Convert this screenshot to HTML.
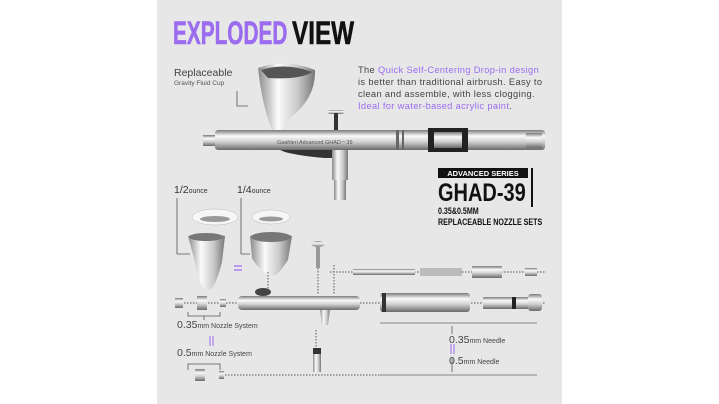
<!DOCTYPE html>
<html><head><meta charset="utf-8"><style>
html,body{margin:0;padding:0;background:#fff;width:719px;height:404px;overflow:hidden}
svg{display:block;font-family:"Liberation Sans",sans-serif}
</style></head><body>
<svg width="719" height="404" viewBox="0 0 719 404">
<defs>
<linearGradient id="m" x1="0" y1="0" x2="0" y2="1">
<stop offset="0" stop-color="#7a7a7a"/><stop offset=".3" stop-color="#fafafa"/><stop offset=".6" stop-color="#cfcfcf"/><stop offset="1" stop-color="#6a6a6a"/></linearGradient>
<linearGradient id="mh" x1="0" y1="0" x2="1" y2="0">
<stop offset="0" stop-color="#8a8a8a"/><stop offset=".35" stop-color="#fbfbfb"/><stop offset=".7" stop-color="#c8c8c8"/><stop offset="1" stop-color="#777"/></linearGradient>
</defs>
<rect x="157" y="0" width="405" height="404" fill="#e7e7e7"/>
<!-- title -->
<text x="173" y="44" font-size="32" font-weight="bold" fill="#9b6cf0" stroke="#9b6cf0" stroke-width=".6" transform="translate(173 0) scale(0.65 1) translate(-173 0)">EXPLODED</text>
<text x="292" y="44" font-size="32" font-weight="bold" fill="#111" stroke="#111" stroke-width=".6" transform="translate(292 0) scale(0.76 1) translate(-292 0)">VIEW</text>
<!-- cup label -->
<text x="174" y="76" font-size="10.5" fill="#444">Replaceable</text>
<text x="174" y="85" font-size="6.5" fill="#555">Gravity Fluid Cup</text>
<path d="M237 91 V106 H248" stroke="#555" fill="none" stroke-width="0.8"/>
<!-- description -->
<g font-size="9.3" fill="#444" letter-spacing=".35">
<text x="358" y="73">The <tspan fill="#9b6cf0">Quick Self-Centering Drop-in design</tspan></text>
<text x="358" y="85">is better than traditional airbrush. Easy to</text>
<text x="358" y="97">clean and assemble, with less clogging.</text>
<text x="358" y="109"><tspan fill="#9b6cf0">Ideal for water-based acrylic paint</tspan>.</text>
</g>
<!-- airbrush -->
<path d="M258 68 Q286 58 315 70 Q316 98 290 118 L282 130 L272 130 Q262 105 258 68Z" fill="url(#mh)"/>
<path d="M261 70 Q286 62 312 72 Q300 80 268 78Z" fill="#555"/>
<rect x="328" y="110" width="16" height="4" rx="2" fill="url(#m)"/><rect x="334" y="113" width="4" height="18" fill="#333"/>
<rect x="203" y="135" width="14" height="11" fill="url(#m)"/>
<rect x="215" y="130" width="330" height="20" rx="3" fill="url(#m)"/>
<rect x="396" y="130" width="3" height="20" fill="#666"/><rect x="402" y="130" width="2" height="20" fill="#666"/>
<rect x="428" y="128" width="40" height="24" fill="#222"/><rect x="434" y="132" width="28" height="16" fill="url(#m)"/>
<rect x="526" y="133" width="16" height="15" fill="url(#m)"/>
<text x="277" y="144" font-size="5.5" fill="#555">Gaahleri  Advanced  GHAD－39</text>
<path d="M280 150 L345 150 L345 158 L325 158 Q300 156 285 152Z" fill="#333"/>
<rect x="332" y="150" width="16" height="30" fill="url(#mh)"/>
<rect x="334" y="180" width="12" height="20" fill="url(#mh)"/>
<!-- GHAD block -->
<rect x="438" y="168" width="90" height="10" fill="#111"/>
<text x="483" y="176" font-size="7.5" fill="#fff" text-anchor="middle" font-weight="bold">ADVANCED SERIES</text>
<text x="438" y="201" font-size="25" font-weight="bold" fill="#111" transform="translate(438 0) scale(0.8 1) translate(-438 0)">GHAD-39</text>
<rect x="531" y="168" width="2" height="39" fill="#111"/>
<text x="438" y="214" font-size="9.5" fill="#111" font-weight="bold" transform="translate(438 0) scale(0.75 1) translate(-438 0)">0.35&amp;0.5MM</text>
<text x="438" y="225" font-size="9.5" fill="#111" font-weight="bold" transform="translate(438 0) scale(0.75 1) translate(-438 0)">REPLACEABLE NOZZLE SETS</text>
<!-- cups -->
<text x="174" y="193" font-size="10.5" fill="#333">1/2<tspan font-size="7">ounce</tspan></text>
<text x="237" y="193" font-size="10.5" fill="#333">1/4<tspan font-size="7">ounce</tspan></text>
<path d="M177 198 V254 H190 M241 198 V254 H250" stroke="#555" fill="none" stroke-width="0.8"/>
<ellipse cx="215" cy="217" rx="23" ry="8" fill="#f6f6f6" stroke="#bbb" stroke-width=".5"/>
<ellipse cx="215" cy="219" rx="15" ry="3" fill="#999"/>
<ellipse cx="271" cy="217" rx="19" ry="7" fill="#f6f6f6" stroke="#bbb" stroke-width=".5"/>
<ellipse cx="271" cy="219" rx="12" ry="2.5" fill="#999"/>
<path d="M188 236 Q206 230 225 236 L222 262 Q215 290 208 290 Q200 290 195 262Z" fill="url(#mh)"/>
<ellipse cx="206" cy="237" rx="17" ry="4" fill="#777"/>
<path d="M250 236 Q271 230 292 236 L288 260 Q278 275 275 275 L268 275 Q255 265 252 258Z" fill="url(#mh)"/>
<ellipse cx="271" cy="237" rx="20" ry="5" fill="#777"/>
<path d="M234 266 H242 M234 270 H242" stroke="#9b6cf0" stroke-width="1.2"/>
<!-- connectors -->
<g stroke="#555" stroke-dasharray="1.5 1.5" stroke-width="1" fill="none">
<path d="M330 272 H545"/><path d="M318 250 V295 M334 265 V295"/><path d="M268 272 V290"/>
<path d="M175 303 H240 M360 303 H545"/><path d="M222 375 H380"/><path d="M316 330 V350"/>
</g>
<ellipse cx="318" cy="244" rx="7" ry="3" fill="url(#m)"/><rect x="316" y="246" width="4" height="22" fill="#999"/>
<rect x="353" y="269" width="62" height="6" fill="url(#m)"/>
<rect x="420" y="268" width="42" height="8" fill="#bbb"/>
<rect x="472" y="266" width="30" height="12" fill="url(#m)"/>
<rect x="525" y="268" width="12" height="8" fill="url(#m)"/>
<!-- parts row 2 -->
<rect x="175" y="298" width="8" height="10" fill="url(#m)"/><rect x="197" y="296" width="10" height="14" fill="url(#m)"/><rect x="220" y="299" width="6" height="8" fill="url(#m)"/>
<rect x="238" y="296" width="122" height="14" rx="4" fill="url(#m)"/>
<ellipse cx="263" cy="292" rx="8" ry="4" fill="#444"/>
<path d="M320 310 L330 310 L328 325 L322 325Z" fill="url(#mh)"/>
<rect x="380" y="293" width="90" height="19" rx="3" fill="url(#m)"/>
<rect x="382" y="293" width="4" height="19" fill="#333"/>
<rect x="483" y="297" width="45" height="12" fill="url(#m)"/><rect x="512" y="297" width="4" height="12" fill="#222"/>
<rect x="528" y="294" width="14" height="17" rx="3" fill="url(#m)"/>
<rect x="313" y="348" width="8" height="6" fill="#333"/><rect x="313" y="354" width="8" height="18" fill="url(#mh)"/>
<!-- labels bottom -->
<path d="M188 312 V316 H220 V312 M204 316 V320" stroke="#555" fill="none" stroke-width=".8"/>
<text x="177" y="328" font-size="10.5" fill="#444">0.35<tspan font-size="7">mm Nozzle System</tspan></text>
<path d="M210 336 V346 M213 336 V346" stroke="#9b6cf0" stroke-width="1"/>
<text x="177" y="356" font-size="10.5" fill="#444">0.5<tspan font-size="7">mm Nozzle System</tspan></text>
<path d="M188 370 V364 H220 V370" stroke="#555" fill="none" stroke-width=".8"/>
<rect x="195" y="369" width="10" height="12" fill="url(#m)"/><rect x="219" y="371" width="5" height="8" fill="url(#m)"/>
<path d="M380 323 H537 M380 375 H537" stroke="#999" stroke-width="1.2"/>
<path d="M452 326 V334 M452 358 V372" stroke="#555" stroke-width=".8"/>
<text x="449" y="343" font-size="10.5" fill="#444">0.35<tspan font-size="7">mm Needle</tspan></text>
<path d="M451 344 V354 M454 344 V354" stroke="#9b6cf0" stroke-width="1"/>
<text x="449" y="364" font-size="10.5" fill="#444">0.5<tspan font-size="7">mm Needle</tspan></text>
</svg>
</body></html>
